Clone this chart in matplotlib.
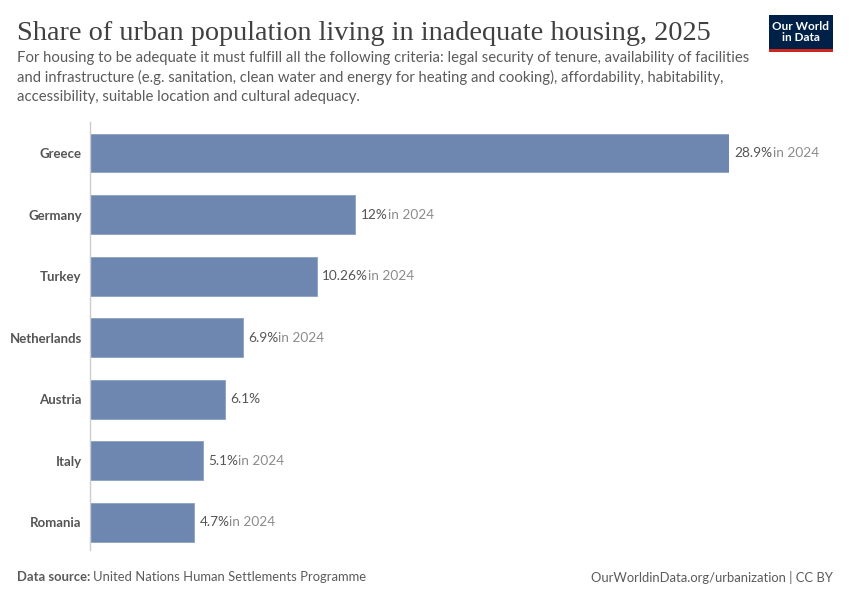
import matplotlib.pyplot as plt
from matplotlib.patches import Rectangle

countries = ["Greece", "Germany", "Turkey", "Netherlands", "Austria", "Italy", "Romania"]
shares = [28.9, 12.0, 10.26, 6.9, 6.1, 5.1, 4.7]
value_labels = ["28.9%", "12%", "10.26%", "6.9%", "6.1%", "5.1%", "4.7%"]
year_notes = ["in 2024", "in 2024", "in 2024", "in 2024", "", "in 2024", "in 2024"]

W, H = 850, 600
fig = plt.figure(figsize=(W / 100, H / 100), dpi=100)
plt.rcParams['font.family'] = ['Lato', 'DejaVu Sans']

# axes placed in pixel coords of the reference
left, right_px, top, bottom = 90, 729, 122, 550
ax = fig.add_axes([left / W, 1 - bottom / H, (right_px - left) / W, (bottom - top) / H])

pos = list(range(len(countries)))
ax.barh(pos, shares, height=0.634, color="#6d87b0", edgecolor="#8aa0c2", linewidth=0.6)
ax.set_xlim(0, shares[0])
ax.set_ylim(6.455, -0.504)

for s in ["top", "right", "bottom"]:
    ax.spines[s].set_visible(False)
ax.spines["left"].set_color("#cccccc")
ax.spines["left"].set_linewidth(1)
ax.set_xticks([])
ax.set_yticks(pos)
ax.set_yticklabels(countries, fontsize=9.5, fontweight="bold", color="#555555")
ax.tick_params(axis="y", length=0, pad=6)

for p, v, lab, note in zip(pos, shares, value_labels, year_notes):
    t = ax.annotate(lab, (v, p), xytext=(4, 0), textcoords="offset points",
                    va="center", ha="left", fontsize=9.8, color="#555555", annotation_clip=False)
    if note:
        fig.canvas.draw()
        bb = t.get_window_extent()
        ax.annotate(note, xy=(bb.x1, (bb.y0 + bb.y1) / 2), xycoords="figure pixels",
                    va="center", ha="left", fontsize=9.8, color="#8c8c8c", annotation_clip=False)

# title and subtitle
fig.text(17 / W, 1 - 33 / H, "Share of urban population living in inadequate housing, 2025",
         family=["Liberation Serif"], fontsize=20.3, color="#404040", va="center", ha="left")
subtitle = ("For housing to be adequate it must fulfill all the following criteria: legal security of tenure, availability of facilities\n"
            "and infrastructure (e.g. sanitation, clean water and energy for heating and cooking), affordability, habitability,\n"
            "accessibility, suitable location and cultural adequacy.")
fig.text(17 / W, 1 - 51 / H, subtitle, fontsize=10.7, color="#5b5b5b", va="top", ha="left",
         linespacing=1.45)

# footer
t = fig.text(17 / W, 1 - 577 / H, "Data source:", fontsize=9.35, fontweight="bold",
             color="#5b5b5b", va="center", ha="left")
fig.canvas.draw()
bb = t.get_window_extent()
fig.text(bb.x1 / W + 3 / W, 1 - 577 / H, "United Nations Human Settlements Programme", fontsize=9.35,
         color="#5b5b5b", va="center", ha="left")
fig.text(833 / W, 1 - 577 / H, "OurWorldinData.org/urbanization | CC BY", fontsize=9.35,
         color="#5b5b5b", va="center", ha="right")

# logo
fig.patches.append(Rectangle((769 / W, 1 - 52 / H), 64 / W, 37 / H, transform=fig.transFigure,
                             facecolor="#002147", edgecolor="none"))
fig.patches.append(Rectangle((769 / W, 1 - 52 / H), 64 / W, 3 / H, transform=fig.transFigure,
                             facecolor="#ce261e", edgecolor="none"))
fig.text(801 / W, 1 - 32 / H, "Our World\nin Data", fontsize=8.5, fontweight="bold", color="white",
         va="center", ha="center", linespacing=1.05)

fig.savefig("out.png", dpi=100)
